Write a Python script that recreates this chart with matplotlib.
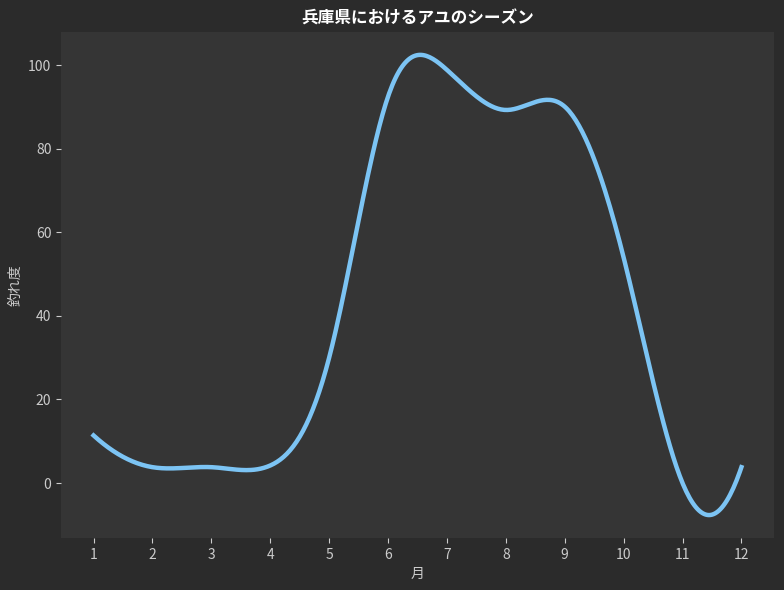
import numpy as np
import matplotlib
matplotlib.use("Agg")
import matplotlib.pyplot as plt

plt.rcParams['font.family'] = ['Noto Sans CJK JP', 'DejaVu Sans']

# monthly catch index
months = np.arange(1, 13)
catch = np.array([11.4, 3.8, 3.8, 4.2, 30.0, 92.5, 98.9, 89.3, 90.1, 54.0, 0.0, 3.8])

title = "兵庫県におけるアユのシーズン"
xlabel = "月"
ylabel = "釣れ度"


def cubic_spline(x, y, xs):
    # cubic spline with parabolic run-out ends, equal spacing
    n = len(x) - 1
    h = x[1] - x[0]
    A = np.zeros((n + 1, n + 1))
    b = np.zeros(n + 1)
    A[0, 0:2] = [1, -1]
    A[n, n - 1:n + 1] = [-1, 1]
    for i in range(1, n):
        A[i, i - 1:i + 2] = [1, 4, 1]
        b[i] = 6 * (y[i + 1] - 2 * y[i] + y[i - 1]) / h**2
    M = np.linalg.solve(A, b)
    idx = np.clip(np.searchsorted(x, xs) - 1, 0, n - 1)
    x0, x1 = x[idx], x[idx + 1]
    return (M[idx] * (x1 - xs)**3 / (6 * h) + M[idx + 1] * (xs - x0)**3 / (6 * h)
            + (y[idx] / h - M[idx] * h / 6) * (x1 - xs)
            + (y[idx + 1] / h - M[idx + 1] * h / 6) * (xs - x0))


xs = np.linspace(months[0], months[-1], 400)
ys = cubic_spline(months.astype(float), catch, xs)

fig, ax = plt.subplots(figsize=(7.84, 5.9), dpi=100)
fig.patch.set_facecolor('#2b2b2b')
ax.set_facecolor('#353535')

ax.plot(xs, ys, color='#7cc4f4', linewidth=3.2)

ax.set_xticks(months)
ax.set_title(title, color='white', fontsize=12, fontweight='bold')
ax.set_xlabel(xlabel, color='#cccccc', fontsize=10)
ax.set_ylabel(ylabel, color='#cccccc', fontsize=10)
ax.tick_params(colors='#cccccc', labelsize=10)
for s in ax.spines.values():
    s.set_visible(False)

fig.subplots_adjust(left=0.078, right=0.987, top=0.946, bottom=0.088)
fig.savefig("out.png", dpi=100, facecolor=fig.get_facecolor())
